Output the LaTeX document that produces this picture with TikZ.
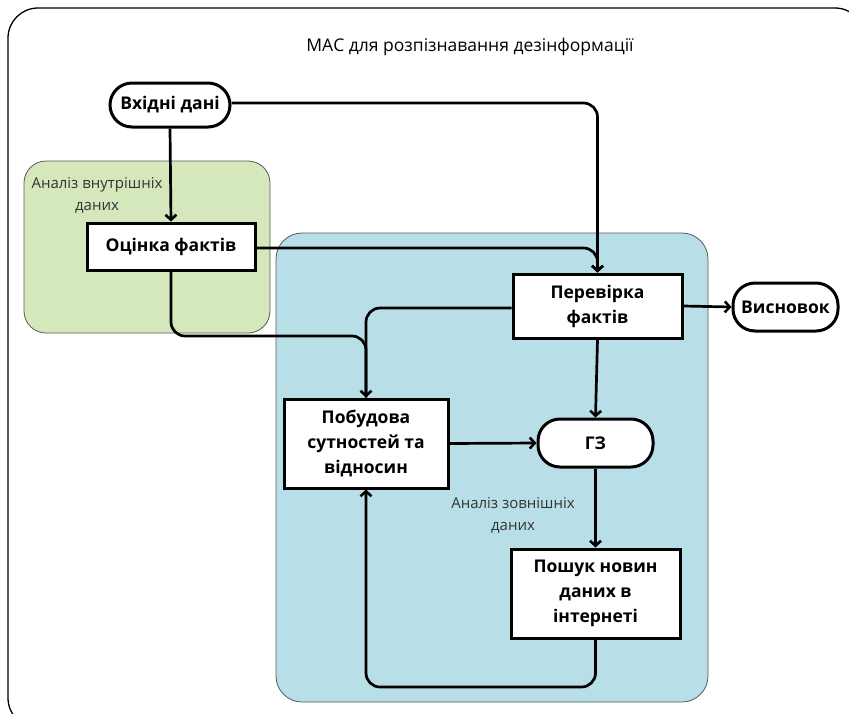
\documentclass[tikz,border=0pt]{standalone}
\usepackage{fontspec}
\setmainfont{Open Sans}
\usetikzlibrary{arrows.meta}
\definecolor{grn}{HTML}{D5E8BC}
\definecolor{blu}{HTML}{B8DFE8}
\begin{document}
\begin{tikzpicture}[x=1pt,y=-1pt,
  boxn/.style={draw=black,line width=3pt,fill=white,align=center,font=\fontsize{17.5}{25}\selectfont\bfseries},
  pill/.style={boxn,rounded corners=22pt},
  conn/.style={line width=2.7pt,rounded corners=14pt,-{Straight Barb[length=5pt,width=11pt,line width=2.6pt]}},
  line/.style={line width=2.7pt,rounded corners=14pt},
  region/.style={draw=black!65,line width=0.8pt},
  rlabel/.style={align=center,text=black!80,font=\fontsize{15}{22}\selectfont}]
\useasboundingbox (0,0) rectangle (849,713);
\begin{scope}
\clip (0,0) rectangle (849,713);
\draw[line width=1.3pt,rounded corners=30pt,fill=white] (8,8) rectangle (865,728);
\end{scope}
\node[font=\fontsize{17.5}{20}\selectfont] (title) at (470,47) {МАС для розпізнавання дезінформації};
% regions
\draw[region,fill=grn,rounded corners=22pt] (24,161) rectangle (270,333);
\draw[region,fill=blu,rounded corners=26pt] (276,233) rectangle (708,702);
\node[rlabel] (lin) at (97,195) {Аналіз внутрішніх\\даних};
\node[rlabel] (lex) at (513,515) {Аналіз зовнішніх\\даних};
% nodes
\node[pill,minimum width=120pt,minimum height=44pt] (vh) at (170,105) {Вхідні дані};
\node[boxn,minimum width=168pt,minimum height=47pt] (ocf) at (171,246.5) {Оцінка фактів};
\node[boxn,minimum width=169pt,minimum height=64pt] (per) at (597.5,306) {Перевірка\\фактів};
\node[pill,minimum width=105pt,minimum height=48pt] (vis) at (785.5,307) {Висновок};
\node[boxn,minimum width=164pt,minimum height=89pt] (pob) at (366,443.5) {Побудова\\сутностей та\\відносин};
\node[pill,minimum width=115pt,minimum height=48pt] (gz) at (595.5,443) {ГЗ};
\node[boxn,minimum width=169pt,minimum height=89pt] (pos) at (595.5,593.5) {Пошук новин\\даних в\\інтернеті};
% connectors
\draw[conn] (vh.south) -- (ocf.north);
\draw[conn] (vh.east |- 0,103) -| (per.north);
\draw[conn] (ocf.east |- 0,248) -| (per.north);
\draw[conn] (ocf.south) |- (pob.north |- 0,336) -- (pob.north);
\draw[line] (per.west |- 0,308) -| (pob.north);
\draw[conn] (per.east) -- (vis.west);
\draw[conn] (per.south) -- (gz.north);
\draw[conn] (pob.east) -- (gz.west);
\draw[conn] (gz.south) -- (pos.north);
\draw[conn] (pos.south) |- (pob.south |- 0,687) -- (pob.south);
\end{tikzpicture}
\end{document}
